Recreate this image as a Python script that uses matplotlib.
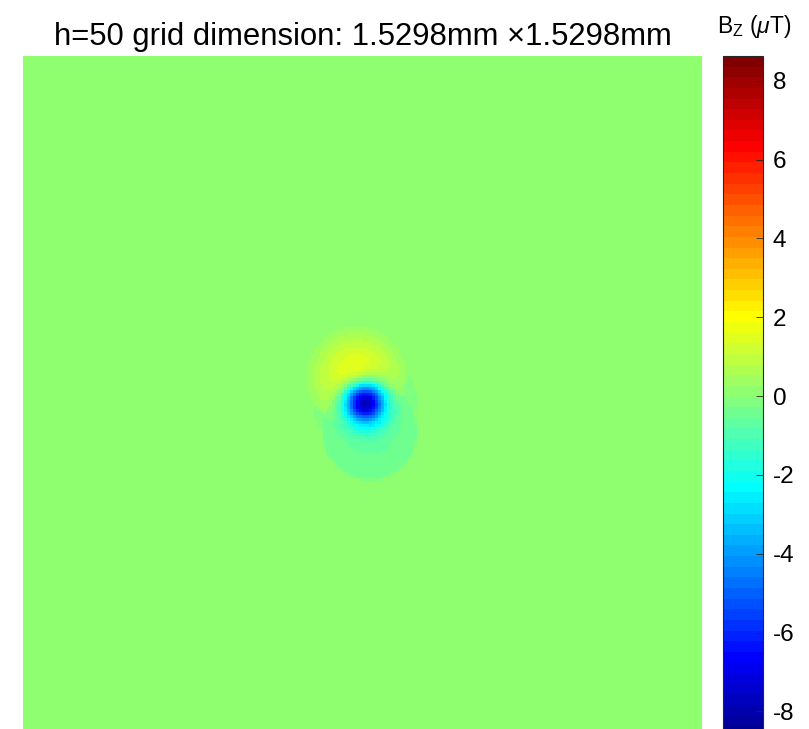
import numpy as np
import matplotlib
matplotlib.use("Agg")
import matplotlib.pyplot as plt
from matplotlib.colors import ListedColormap

plt.rcParams['font.family'] = ['Liberation Sans', 'DejaVu Sans']
plt.rcParams['mathtext.fontset'] = 'custom'
plt.rcParams['mathtext.rm'] = 'Liberation Sans'
plt.rcParams['mathtext.it'] = 'Liberation Sans:italic'
plt.rcParams['axes.unicode_minus'] = False

# grid: square, side length in mm
grid_mm = 1.5298
n_cells = 226

# field components (positions in mm from top-left)
core_xy = [0.770, 0.777]
core_sigma = 0.0315
core_amp = -8.6

pos_lobe_xy = [0.752, 0.721]
pos_lobe_radius = 0.112
pos_lobe_peak = 2.3
pos_lobe_edge = 0.25

neg_disc_xy = [0.782, 0.846]
neg_disc_radius = 0.108
neg_disc_peak = -0.8
neg_disc_edge = -0.25

clim = [-8.65, 8.63]
cbar_ticks = [-8, -6, -4, -2, 0, 2, 4, 6, 8]


def matlab_jet(m=64):
    n = int(np.ceil(m / 4))
    u = np.concatenate([np.arange(1, n + 1) / n, np.ones(n - 1), np.arange(n, 0, -1) / n])
    g = int(np.ceil(n / 2)) - (1 if m % 4 == 1 else 0) + np.arange(1, len(u) + 1)
    r = g + n
    b = g - n
    g = g[g <= m]
    r = r[r <= m]
    b = b[b >= 1]
    J = np.zeros((m, 3))
    J[r - 1, 0] = u[:len(r)]
    J[g - 1, 1] = u[:len(g)]
    J[b - 1, 2] = u[len(u) - len(b):]
    return ListedColormap(J)


def disc(X, Y, xy, radius, peak, edge):
    d = np.sqrt((X - xy[0]) ** 2 + (Y - xy[1]) ** 2) / radius
    return np.where(d < 1, edge + (peak - edge) * (1 - d), 0.0)


coords = (np.arange(n_cells) + 0.5) * grid_mm / n_cells
X, Y = np.meshgrid(coords, coords)

bz = core_amp * np.exp(-((X - core_xy[0]) ** 2 + (Y - core_xy[1]) ** 2) / (2 * core_sigma ** 2))
bz += disc(X, Y, pos_lobe_xy, pos_lobe_radius, pos_lobe_peak, pos_lobe_edge)
bz += disc(X, Y, neg_disc_xy, neg_disc_radius, neg_disc_peak, neg_disc_edge)

fig = plt.figure(figsize=(8.09, 7.29), dpi=100)
ax = fig.add_axes([23 / 809, -8 / 729, 679 / 809, 681 / 729])
cax = fig.add_axes([723 / 809, -8 / 729, 40 / 809, 681 / 729])

im = ax.imshow(bz, cmap=matlab_jet(64), vmin=clim[0], vmax=clim[1],
               extent=[0, grid_mm, grid_mm, 0], interpolation='nearest', aspect='auto')
ax.axis('off')
ax.set_title("h=50 grid dimension: 1.5298mm \u00d71.5298mm", fontsize=22.3, pad=8)

cb = fig.colorbar(im, cax=cax, ticks=cbar_ticks)
cb.outline.set_edgecolor('#262626')
cb.outline.set_linewidth(0.8)
cax.tick_params(direction='in', length=5, width=0.6, color='#262626', labelsize=17.5, pad=7)
fig.text(717 / 809, 1 - 33 / 729, r"B$_\mathrm{Z}$ ($\mathit{\mu}$T)", fontsize=16.5, va='baseline')

fig.savefig("out.png", dpi=100)
